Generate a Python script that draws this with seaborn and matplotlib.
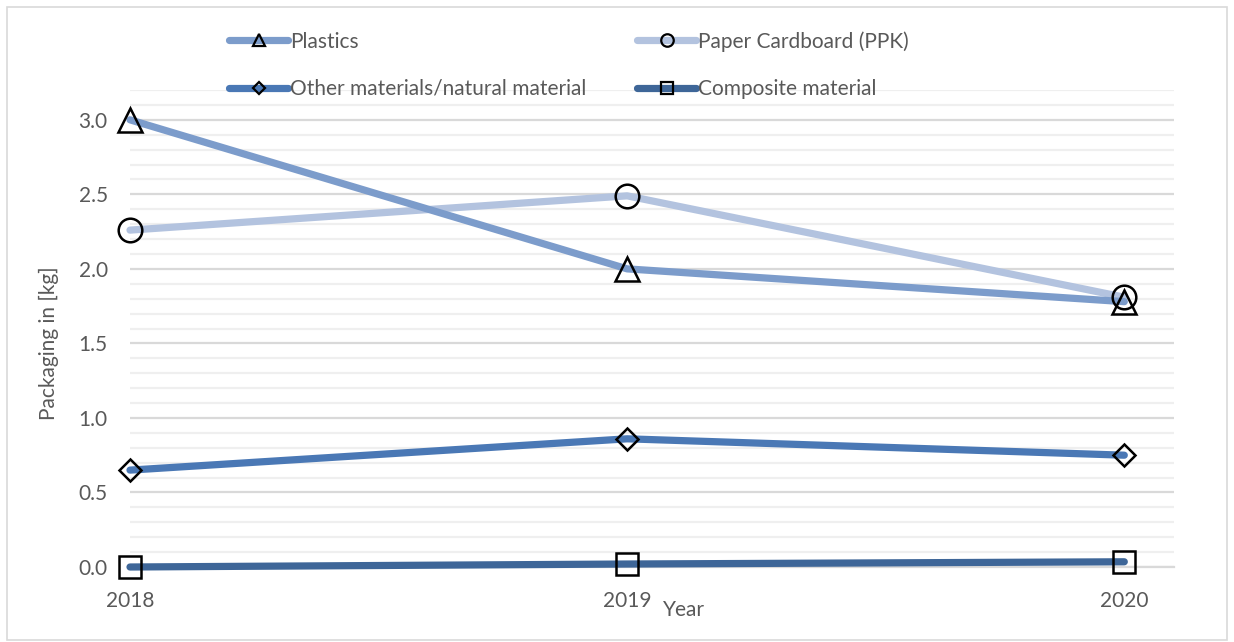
import matplotlib
matplotlib.use("Agg")
import matplotlib.pyplot as plt
from matplotlib.lines import Line2D
from matplotlib.patches import Rectangle
from matplotlib.ticker import MultipleLocator, FormatStrFormatter
import pandas as pd
import seaborn as sns

# Packaging weight per material and year
years = [2018, 2019, 2020]
plastics = [3.00, 2.00, 1.78]
paper_cardboard = [2.26, 2.49, 1.81]
other_materials = [0.65, 0.86, 0.75]
composite = [0.00, 0.02, 0.035]

series_names = ["Composite material", "Other materials/natural material",
                "Paper Cardboard (PPK)", "Plastics"]
series_values = [composite, other_materials, paper_cardboard, plastics]
series_colors = ["#3E6698", "#4A78B5", "#B3C3DF", "#7C9CCB"]
series_markers = ["s", "D", "o", "^"]
marker_sizes = [16.5, 11.5, 17, 17]
legend_marker_sizes = [9, 6.5, 9, 9]

df = pd.DataFrame({
    "Year": years * len(series_names),
    "Value": [v for vals in series_values for v in vals],
    "Material": [n for n in series_names for _ in years],
})

sns.set_theme(style="white")
plt.rcParams["font.family"] = ["Lato", "DejaVu Sans"]
text_color = "#595959"
fs = 15

fig = plt.figure(figsize=(12.34, 6.42), dpi=100)
ax = fig.add_axes([130 / 1234, 1 - 567 / 642, 1044 / 1234, 477 / 642])

handles = {}
for name, color, mk, ms, lms in zip(series_names, series_colors, series_markers,
                                    marker_sizes, legend_marker_sizes):
    sub = df[df["Material"] == name]
    sns.lineplot(data=sub, x="Year", y="Value", ax=ax, color=color, linewidth=5.2,
                 legend=False, solid_capstyle="round", zorder=3)
    ax.get_lines()[-1].set_clip_on(False)
    # hollow black markers on top of the line
    ax.plot(sub["Year"], sub["Value"], linestyle="none", marker=mk, markersize=ms,
            markerfacecolor="none", markeredgecolor="black", markeredgewidth=1.8,
            clip_on=False, zorder=5)
    handles[name] = Line2D([0], [0], color=color, linewidth=5.2, marker=mk,
                           markersize=lms, markerfacecolor="none",
                           markeredgecolor="black", markeredgewidth=1.6,
                           solid_capstyle="round")

ax.set_xlim(2018, 2020.1)
ax.set_ylim(0, 3.2)
ax.set_xticks(years)
ax.set_xticklabels([str(y) for y in years])
ax.yaxis.set_major_locator(MultipleLocator(0.5))
ax.yaxis.set_minor_locator(MultipleLocator(0.1))
ax.yaxis.set_major_formatter(FormatStrFormatter("%.1f"))
ax.grid(which="major", axis="y", color="#D9D9D9", linewidth=1.6, zorder=0)
ax.grid(which="minor", axis="y", color="#EFEFEF", linewidth=1.6, zorder=0)
ax.set_axisbelow(True)
for side in ["top", "right", "left"]:
    ax.spines[side].set_visible(False)
ax.spines["bottom"].set_color("#D9D9D9")
ax.spines["bottom"].set_linewidth(1.6)
ax.tick_params(axis="both", which="both", length=0, labelsize=fs, colors=text_color)
ax.tick_params(axis="y", pad=16)
ax.tick_params(axis="x", pad=17)

ax.set_ylabel("Packaging in [kg]", fontsize=fs, color=text_color)
ax.set_xlabel("Year", fontsize=fs, color=text_color)
ax.yaxis.set_label_coords((59 - 130) / 1044, 0.47)
ax.xaxis.set_label_coords((684 - 130) / 1044, -33 / 477)

order = ["Plastics", "Other materials/natural material",
         "Paper Cardboard (PPK)", "Composite material"]
fig.legend([handles[n] for n in order], order, ncol=2, frameon=False,
           loc="center left", bbox_to_anchor=(229 / 1234, 1 - 65 / 642),
           borderpad=0, borderaxespad=0, prop={"size": fs},
           labelcolor=text_color, handlelength=2.85,
           handletextpad=0.1, columnspacing=2.4, labelspacing=1.3)

# light frame around the whole chart area
fig.patches.append(Rectangle((7 / 1234, 2 / 642), 1220 / 1234, 633 / 642,
                             transform=fig.transFigure, fill=False,
                             edgecolor="#D9D9D9", linewidth=1.2))

fig.savefig("out.png", dpi=100)
